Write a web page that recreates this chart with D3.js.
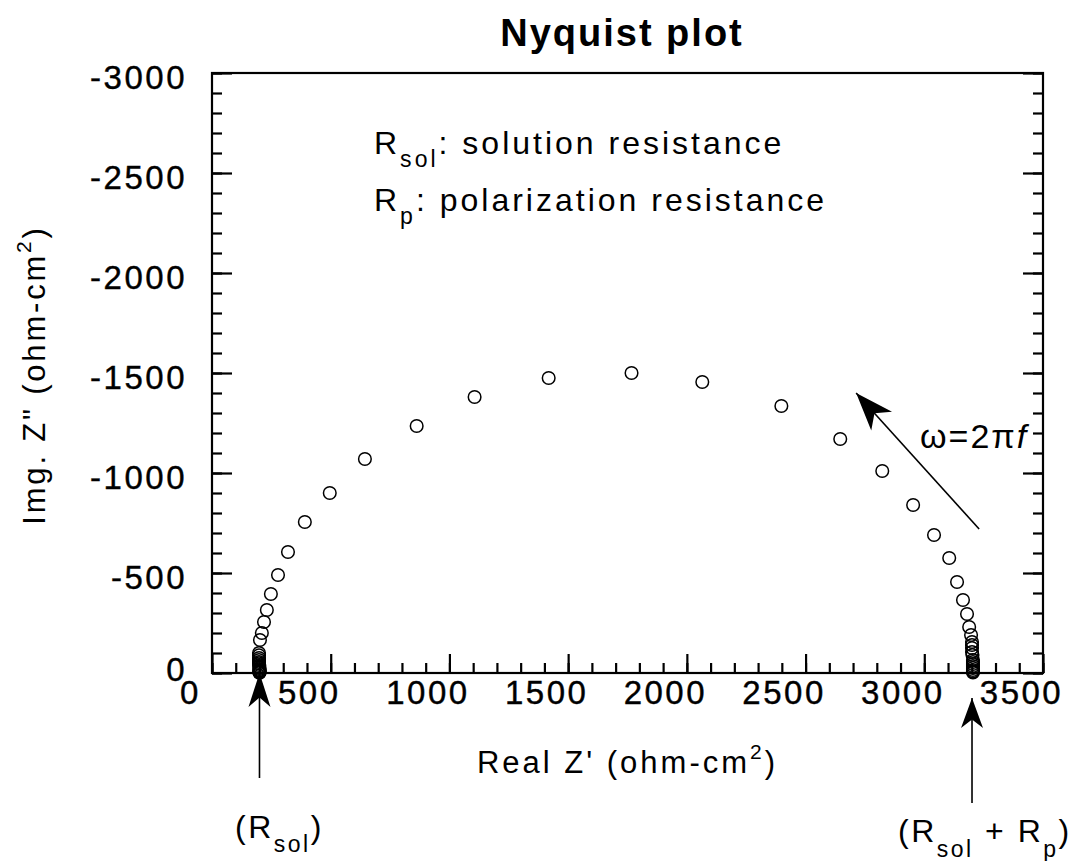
<!DOCTYPE html>
<html><head><meta charset="utf-8">
<script src="https://cdn.jsdelivr.net/npm/d3@7"></script>
<style>
body{margin:0;background:#fff}
text{font-family:"Liberation Sans",Arial,Helvetica,sans-serif;fill:#000}
</style>
</head><body>
<svg id="chart" width="1085" height="861"></svg>
<script>
// ---- data ----
const realZ = [200,200,200,200,200,200,200,200,199,199,198,198,198,198,198,198,202,210,219,231,248,278,320,391,496,644,862,1106,1418,1767,2065,2398,2646,2823,2953,3041,3105,3138,3163,3180,3189,3197,3201,3201,3201,3201,3203,3205,3205,3205,3205,3205,3205,3205,3205];
const imagZ = [-1,-3,-5,-8,-11,-15,-20,-25,-32,-40,-48,-55,-65,-75,-88,-100,-165,-200,-255,-315,-395,-490,-605,-755,-900,-1070,-1235,-1380,-1475,-1500,-1455,-1335,-1170,-1010,-840,-690,-575,-455,-365,-295,-230,-190,-155,-140,-125,-105,-90,-65,-55,-45,-35,-25,-15,-8,-3];
const xTicks = [0,500,1000,1500,2000,2500,3000,3500];
const xTickLabels = ["0","500","1000","1500","2000","2500","3000","3500"];
const yTicks = [0,-500,-1000,-1500,-2000,-2500,-3000];
const yTickLabels = ["0","-500","-1000","-1500","-2000","-2500","-3000"];
const xMinor = d3.range(0,3501,100);
const yMinor = d3.range(0,-3001,-100);
// annotation anchor points in data units
const rSol = 200, rTotal = 3201;
const omegaArrow = {x1:3231, y1:-720, x2:2713, y2:-1400};

const svg = d3.select("#chart");
const L=212, R=1043, T=73, B=673;
const x = d3.scaleLinear().domain([0,3500]).range([L,R]);
const y = d3.scaleLinear().domain([0,-3000]).range([B,T]);

// frame
svg.append("rect").attr("x",L).attr("y",T).attr("width",R-L).attr("height",B-T)
  .attr("fill","none").attr("stroke","#000").attr("stroke-width",2.2);

const fontTick = 33;
function styleAxis(g){ g.select(".domain").remove(); g.selectAll(".tick line").attr("stroke","#000").attr("stroke-width",2.2); }

// bottom axis
svg.append("g").attr("transform",`translate(0,${B})`)
  .call(d3.axisBottom(x).tickValues(xMinor).tickSize(-10).tickFormat(""))
  .call(styleAxis);
const gx = svg.append("g").attr("transform",`translate(0,${B})`)
  .call(d3.axisBottom(x).tickValues(xTicks).tickSize(-19).tickFormat((d,i)=>xTickLabels[i]))
  .call(styleAxis);
gx.selectAll("text").attr("font-size",fontTick).attr("letter-spacing","2.5px")
  .attr("stroke","#000").attr("stroke-width",0.4)
  .attr("y",31).attr("dy",0).attr("dx",-22).attr("text-anchor","middle");

// left axis
svg.append("g").attr("transform",`translate(${L},0)`)
  .call(d3.axisLeft(y).tickValues(yMinor).tickSize(-10).tickFormat(""))
  .call(styleAxis);
const gy = svg.append("g").attr("transform",`translate(${L},0)`)
  .call(d3.axisLeft(y).tickValues(yTicks).tickSize(-20).tickFormat((d,i)=>yTickLabels[i]))
  .call(styleAxis);
gy.selectAll("text").attr("font-size",fontTick).attr("letter-spacing","2.5px")
  .attr("stroke","#000").attr("stroke-width",0.4)
  .attr("x",-25).attr("dy","0.35em").attr("dx",0).attr("text-anchor","end")
  .attr("transform","translate(0,4)");
gy.selectAll(".tick").filter(d=>d===0).select("text").attr("transform","translate(0,-4)");

// right axis (ticks only)
svg.append("g").attr("transform",`translate(${R},0)`)
  .call(d3.axisRight(y).tickValues(yMinor).tickSize(-10).tickFormat(""))
  .call(styleAxis);
svg.append("g").attr("transform",`translate(${R},0)`)
  .call(d3.axisRight(y).tickValues(yTicks).tickSize(-20).tickFormat(""))
  .call(styleAxis);

// data points
svg.append("g").selectAll("circle").data(realZ.map((r,i)=>({r, im:imagZ[i]})))
  .join("circle").attr("cx",d=>x(d.r)).attr("cy",d=>y(d.im)).attr("r",6.3)
  .attr("fill","none").attr("stroke","#000").attr("stroke-width",1.5);

// title
svg.append("text").attr("x",622).attr("y",46).attr("text-anchor","middle")
  .attr("font-size",38).attr("font-weight","bold").attr("letter-spacing","2px").text("Nyquist plot");

// axis titles
const xt = svg.append("text").attr("x",(L+R)/2).attr("y",773).attr("text-anchor","middle")
  .attr("font-size",31).attr("letter-spacing","3px");
xt.append("tspan").text("Real Z' (ohm-cm");
xt.append("tspan").attr("font-size",21).attr("dy",-14).text("2");
xt.append("tspan").attr("dy",14).text(")");

const yt = svg.append("text").attr("transform","translate(45,375) rotate(-90)").attr("text-anchor","middle")
  .attr("font-size",31).attr("letter-spacing","2.8px");
yt.append("tspan").text("Img. Z\" (ohm-cm");
yt.append("tspan").attr("font-size",21).attr("dy",-14).text("2");
yt.append("tspan").attr("dy",14).text(")");

// legend lines
function subText(xp, yp, main, sub, rest, fs){
  const t = svg.append("text").attr("x",xp).attr("y",yp).attr("font-size",fs).attr("letter-spacing","3px");
  t.append("tspan").text(main);
  t.append("tspan").attr("font-size",fs*0.72).attr("dy",13).text(sub);
  t.append("tspan").attr("dy",-13).text(rest);
  return t;
}
subText(374,154,"R","sol",": solution resistance",32);
subText(374,211,"R","p",": polarization resistance",32);

// arrows
function arrow(x1,y1,x2,y2,len,wid){
  svg.append("line").attr("x1",x1).attr("y1",y1).attr("x2",x2).attr("y2",y2)
    .attr("stroke","#000").attr("stroke-width",1.6);
  const a = Math.atan2(y2-y1,x2-x1);
  const ux=Math.cos(a), uy=Math.sin(a), px=-uy, py=ux;
  const bx=x2-ux*len, by=y2-uy*len, nx=x2-ux*len*0.72, ny=y2-uy*len*0.72;
  svg.append("path").attr("d",`M${x2},${y2}L${bx+px*wid/2},${by+py*wid/2}L${nx},${ny}L${bx-px*wid/2},${by-py*wid/2}Z`)
    .attr("fill","#000");
}
arrow(x(rSol), y(525), x(rSol), y(0), 34, 22);
arrow(x(rTotal), y(650), x(rTotal), y(125), 30, 22);
arrow(x(omegaArrow.x1), y(omegaArrow.y1), x(omegaArrow.x2), y(omegaArrow.y2), 38, 28);

// omega label
const om = svg.append("text").attr("x",920).attr("y",448).attr("font-size",34).attr("letter-spacing","2px");
om.append("tspan").text("ω=2π");
om.append("tspan").attr("font-style","italic").text("f");

// bottom labels
const t1 = svg.append("text").attr("x",235).attr("y",838).attr("font-size",32).attr("letter-spacing","2.5px");
t1.append("tspan").text("(R");
t1.append("tspan").attr("font-size",23).attr("dy",14).text("sol");
t1.append("tspan").attr("dy",-14).text(")");
const t2 = svg.append("text").attr("x",898).attr("y",842).attr("font-size",32).attr("letter-spacing","2.5px");
t2.append("tspan").text("(R");
t2.append("tspan").attr("font-size",23).attr("dy",15).text("sol");
t2.append("tspan").attr("dy",-15).text(" + R");
t2.append("tspan").attr("font-size",23).attr("dy",15).text("p");
t2.append("tspan").attr("dy",-15).text(")");
</script>
</body></html>
